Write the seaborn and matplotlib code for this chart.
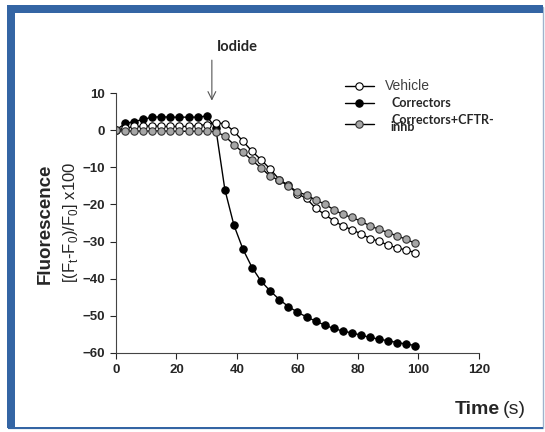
import numpy as np
import pandas as pd
import matplotlib.pyplot as plt
import seaborn as sns
from matplotlib.patches import Rectangle

# data (time in s, fluorescence change x100)
time = np.arange(0, 100, 3)

vehicle = [0, 0.5, 1.0, 1.0, 1.2, 1.0, 1.0, 1.0, 1.0, 1.2, 1.5, 2.0,
           1.7, -0.3, -3.0, -5.7, -8.0, -10.5, -13.3, -14.9, -17.1, -18.4,
           -21.0, -22.7, -24.4, -25.8, -26.8, -27.9, -29.2, -29.9, -31.0,
           -31.7, -32.3, -33.0]

correctors = [0, 1.8, 2.3, 2.9, 3.5, 3.6, 3.5, 3.5, 3.5, 3.5, 3.8, 0.5,
              -16.0, -25.6, -32.1, -37.0, -40.7, -43.3, -45.6, -47.5, -49.0,
              -50.3, -51.4, -52.5, -53.4, -54.1, -54.6, -55.2, -55.8, -56.3,
              -56.7, -57.2, -57.6, -58.0]

inhib = [0, -0.3, -0.2, -0.3, -0.2, -0.2, -0.3, -0.3, -0.3, -0.3, -0.3, -0.4,
         -1.6, -3.9, -6.0, -8.1, -10.2, -12.4, -13.5, -15.0, -16.6, -17.5,
         -18.8, -19.9, -21.4, -22.7, -23.5, -24.5, -25.8, -26.7, -27.6,
         -28.5, -29.4, -30.5]

labels = ['Vehicle', 'Correctors', 'Correctors+CFTR-\ninhb']
xticks = [0, 20, 40, 60, 80, 100, 120]
yticks = [-60, -50, -40, -30, -20, -10, 0, 10]

df = pd.DataFrame({'time': time, 'Vehicle': vehicle,
                   'Correctors': correctors, 'Inhib': inhib})

sns.set_style('ticks')
plt.rcParams['font.family'] = ['Liberation Sans', 'DejaVu Sans']
plt.rcParams['mathtext.fontset'] = 'custom'
plt.rcParams['mathtext.rm'] = 'Liberation Sans'

fig = plt.figure(figsize=(5.45, 4.32), dpi=100)
ax = fig.add_axes([0.2128, 0.1829, 0.666, 0.6018])

ms = 5.3
sns.lineplot(data=df, x='time', y='Correctors', ax=ax, color='black', lw=1,
             marker='o', markersize=ms, markerfacecolor='black',
             markeredgecolor='black', markeredgewidth=0.8, label=labels[1])
sns.lineplot(data=df, x='time', y='Vehicle', ax=ax, color='black', lw=1,
             marker='o', markersize=ms, markerfacecolor='white',
             markeredgecolor='black', markeredgewidth=0.8, label=labels[0])
sns.lineplot(data=df, x='time', y='Inhib', ax=ax, color='black', lw=1,
             marker='o', markersize=ms, markerfacecolor='#a6a6a6',
             markeredgecolor='#333333', markeredgewidth=0.8, label=labels[2])

ax.set_xlim(0, 120)
ax.set_ylim(-60, 10)
ax.set_xticks(xticks)
ax.set_yticks(yticks)
for lab in ax.get_xticklabels() + ax.get_yticklabels():
    lab.set_fontweight('bold')
    lab.set_fontsize(9.5)
ax.tick_params(length=4, width=0.8, pad=4)
ax.set_xlabel('')
ax.set_ylabel('')
sns.despine(ax=ax)
for s in ['left', 'bottom']:
    ax.spines[s].set_linewidth(0.8)
    ax.spines[s].set_color('#444444')

# legend, reordered
h, l = ax.get_legend_handles_labels()
order = [1, 0, 2]
leg = ax.legend([h[i] for i in order], [l[i] for i in order],
                loc='upper left', bbox_to_anchor=(340 / 545, 1 - 74 / 432),
                bbox_transform=fig.transFigure, frameon=False, fontsize=9,
                handlelength=2.3, handletextpad=0.9, labelspacing=0.35,
                borderaxespad=0)
texts = leg.get_texts()
texts[0].set_color('#404040')
texts[0].set_fontsize(10)
for t in texts[1:]:
    t.set_family(['Lato', 'DejaVu Sans'])
    t.set_fontweight('bold')
    t.set_x(6)
texts[2].set_linespacing(0.55)

# iodide arrow
ax.annotate('', xy=(31.7, 7.2), xytext=(31.7, 19.6),
            arrowprops=dict(arrowstyle='->', color='#555555', lw=0.8,
                            mutation_scale=14),
            annotation_clip=False)
fig.text(237 / 545, 1 - 47 / 432, 'Iodide', ha='center', va='center',
         fontsize=10.5, fontweight='bold', family=['Lato', 'DejaVu Sans'])

# axis titles
fig.text(45 / 545, 1 - 224 / 432, 'Fluorescence', rotation=90, ha='center',
         va='center', fontsize=13.5, fontweight='bold')
fig.text(70 / 545, 1 - 222 / 432, r'[(F$_{\rm t}$-F$_{\rm 0}$)/F$_{\rm 0}$] x100',
         rotation=90, ha='center', va='center', fontsize=12)
fig.text(500 / 545, 1 - 409 / 432, 'Time', ha='right', va='center',
         fontsize=14, fontweight='bold')
fig.text(503 / 545, 1 - 409 / 432, '(s)', ha='left', va='center', fontsize=14)

# slide frame
blue = '#3465a4'
fig.add_artist(Rectangle((8 / 545, 1 - 428 / 432), 535 / 545, 421 / 432,
                         transform=fig.transFigure, fill=False,
                         edgecolor='#9fb3cc', lw=1))
fig.add_artist(Rectangle((7 / 545, 1 - 428 / 432), 8 / 545, 423 / 432,
                         transform=fig.transFigure, color=blue, lw=0))
fig.add_artist(Rectangle((7 / 545, 1 - 13 / 432), 536 / 545, 8 / 432,
                         transform=fig.transFigure, color=blue, lw=0))
fig.add_artist(Rectangle((8 / 545, 1 - 428.5 / 432), 535 / 545, 1.5 / 432,
                         transform=fig.transFigure, color=blue, lw=0))

fig.savefig('out.png', dpi=100)
